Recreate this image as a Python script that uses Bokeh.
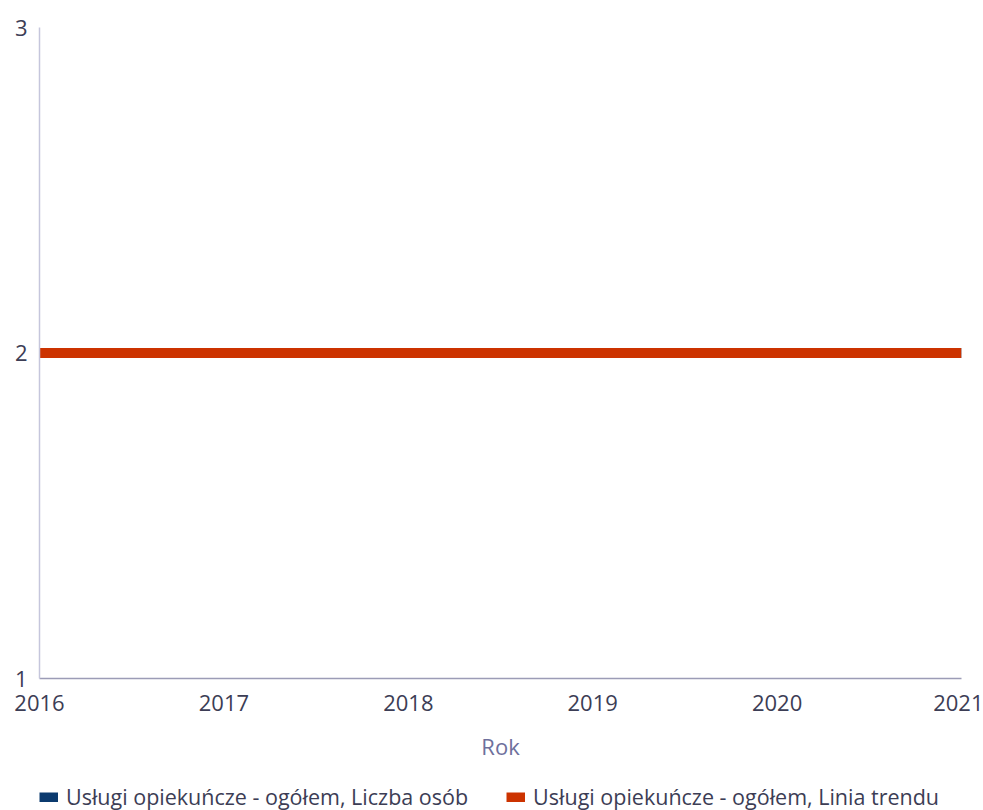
from bokeh.plotting import figure
from bokeh.layouts import column
from bokeh.models import Range1d, FixedTicker, Legend, LegendItem
from bokeh.embed import file_html
from bokeh.resources import INLINE

years = [2016, 2017, 2018, 2019, 2020, 2021]
liczba_osob = [2, 2, 2, 2, 2, 2]
linia_trendu = [2, 2, 2, 2, 2, 2]
y_ticks = [1, 2, 3]
x_label = "Rok"
series_names = ["Usługi opiekuńcze - ogółem, Liczba osób",
                "Usługi opiekuńcze - ogółem, Linia trendu"]
colors = ["#0b3a6e", "#cc3300"]

FONT = "Open Sans"
TXT = "#3c3d55"

# ---- main chart ----
p = figure(frame_width=922, frame_height=651, output_backend="svg", toolbar_location=None,
           x_range=Range1d(years[0], years[-1]), y_range=Range1d(y_ticks[0], y_ticks[-1]),
           min_border_left=39, min_border_right=22, min_border_top=27, min_border_bottom=0)
p.outline_line_color = None
p.xgrid.grid_line_color = None
p.ygrid.grid_line_color = "#e2e2ea"
p.ygrid.ticker = FixedTicker(ticks=y_ticks)

p.line(years, liczba_osob, line_width=10, line_color=colors[0])
p.line(years, linia_trendu, line_width=10, line_color=colors[1])

xa = p.xaxis[0]
xa.ticker = FixedTicker(ticks=years)
xa.major_tick_out = 0
xa.major_tick_in = 0
xa.minor_tick_out = 0
xa.minor_tick_in = 0
xa.axis_line_color = "#9c9cb6"
xa.axis_line_width = 1.5
xa.major_label_text_font = FONT
xa.major_label_text_font_size = "22px"
xa.major_label_text_color = TXT
xa.major_label_standoff = 16
xa.axis_label = x_label
xa.axis_label_text_font = FONT
xa.axis_label_text_font_size = "22px"
xa.axis_label_text_font_style = "normal"
xa.axis_label_text_color = "#6e709c"
xa.axis_label_standoff = 17

ya = p.yaxis[0]
ya.ticker = FixedTicker(ticks=y_ticks)
ya.major_tick_out = 0
ya.major_tick_in = 0
ya.minor_tick_out = 0
ya.minor_tick_in = 0
ya.axis_line_color = "#c5c6dc"
ya.axis_line_width = 1.5
ya.major_label_text_font = FONT
ya.major_label_text_font_size = "22px"
ya.major_label_text_color = TXT
ya.major_label_standoff = 12

# ---- legend strip (same series, plotted outside its view so only the legend shows) ----
lg = figure(width=983, height=48, output_backend="svg", toolbar_location=None,
            x_range=Range1d(0, 1), y_range=Range1d(0, 1),
            x_axis_type=None, y_axis_type=None, min_border=0)
lg.outline_line_color = None
lg.grid.grid_line_color = None
q1 = lg.line(years, liczba_osob, line_width=10, line_color=colors[0])
q2 = lg.line(years, linia_trendu, line_width=10, line_color=colors[1])

legend = Legend(items=[LegendItem(label=series_names[0], renderers=[q1]),
                       LegendItem(label=series_names[1], renderers=[q2])],
                orientation="horizontal", location=(0, 0),
                glyph_width=19, glyph_height=10, label_standoff=8,
                spacing=38, padding=0, margin=0,
                border_line_alpha=0, background_fill_alpha=0,
                label_text_font=FONT, label_text_font_size="21.5px", label_text_color=TXT)
lg.add_layout(legend, "center")

layout = column(p, lg, spacing=0)
open("out.html", "w").write(file_html(layout, INLINE))
